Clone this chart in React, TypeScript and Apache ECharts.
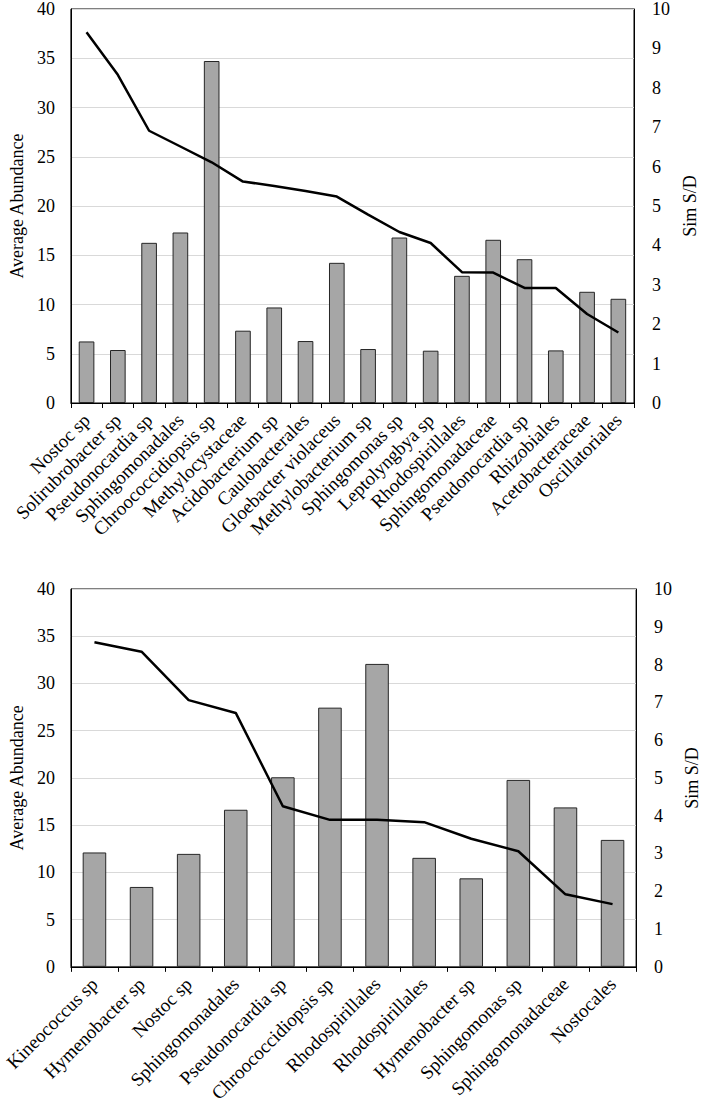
import React, { useEffect, useRef } from "react";
import * as echarts from "echarts";

// Upper panel
const taxaTop = [
  "Nostoc sp",
  "Solirubrobacter sp",
  "Pseudonocardia sp",
  "Sphingomonadales",
  "Chroococcidiopsis sp",
  "Methylocystaceae",
  "Acidobacterium sp",
  "Caulobacterales",
  "Gloebacter violaceus",
  "Methylobacterium sp",
  "Sphingomonas sp",
  "Leptolyngbya sp",
  "Rhodospirillales",
  "Sphingomonadaceae",
  "Pseudonocardia sp",
  "Rhizobiales",
  "Acetobacteraceae",
  "Oscillatoriales",
];
const abundanceTop = [6.25, 5.38, 16.26, 17.31, 34.72, 7.34, 9.7, 6.29, 14.23, 5.48, 16.8, 5.31, 12.91, 16.57, 14.6, 5.34, 11.29, 10.58];
const simSdTop = [9.41, 8.33, 6.91, 6.51, 6.11, 5.62, 5.51, 5.38, 5.24, 4.78, 4.34, 4.06, 3.32, 3.31, 2.92, 2.92, 2.26, 1.79];

// Lower panel
const taxaBottom = [
  "Kineococcus sp",
  "Hymenobacter sp",
  "Nostoc sp",
  "Sphingomonadales",
  "Pseudonocardia sp",
  "Chroococcidiopsis sp",
  "Rhodospirillales",
  "Rhodospirillales",
  "Hymenobacter sp",
  "Sphingomonas sp",
  "Sphingomonadaceae",
  "Nostocales",
];
const abundanceBottom = [12.11, 8.46, 11.96, 16.63, 20.07, 27.44, 32.07, 11.54, 9.37, 19.79, 16.88, 13.44];
const simSdBottom = [8.59, 8.34, 7.06, 6.72, 4.25, 3.89, 3.89, 3.83, 3.39, 3.06, 1.92, 1.66];

// Axis ranges
const abundanceAxis = { min: 0, max: 40, interval: 5 };
const simSdAxis = { min: 0, max: 10, interval: 1 };

const FONT = "'Liberation Serif', 'Times New Roman', serif";
const FS = 18;
const CAT_FS = 19;

export default function App() {
  const ref = useRef<HTMLDivElement>(null);

  useEffect(() => {
    document.body.style.margin = "0";
    if (!ref.current) return;
    const chart = echarts.init(ref.current, undefined, { renderer: "svg" });

    const panels = [
      {
        taxa: taxaTop,
        abundance: abundanceTop,
        simSd: simSdTop,
        grid: { left: 69, right: 75, top: 9, height: 394 },
        leftGap: 40,
        rightGap: 42,
      },
      {
        taxa: taxaBottom,
        abundance: abundanceBottom,
        simSd: simSdBottom,
        grid: { left: 64, right: 59, top: 589, height: 380 },
        leftGap: 38,
        rightGap: 41,
      },
    ];

    const grid: any[] = [];
    const xAxis: any[] = [];
    const yAxis: any[] = [];
    const series: any[] = [];

    panels.forEach((p, i) => {
      grid.push({ ...p.grid, show: true, borderColor: "#000", borderWidth: 1, backgroundColor: "transparent" });
      xAxis.push({
        type: "category",
        gridIndex: i,
        data: p.taxa,
        boundaryGap: true,
        axisLine: { show: true, lineStyle: { color: "#000", width: 1 } },
        axisTick: { show: true, length: 5, lineStyle: { color: "#000" } },
        axisLabel: {
          interval: 0,
          rotate: 45,
          margin: 14,
          color: "#000",
          fontFamily: FONT,
          fontSize: CAT_FS,
        },
      });
      yAxis.push({
        type: "value",
        gridIndex: i,
        position: "left",
        ...abundanceAxis,
        name: "Average Abundance",
        nameLocation: "middle",
        nameGap: p.leftGap,
        nameTextStyle: { color: "#000", fontFamily: FONT, fontSize: FS },
        axisLine: { show: true, lineStyle: { color: "#000" } },
        axisTick: { show: false },
        axisLabel: { color: "#000", fontFamily: FONT, fontSize: FS, margin: 16 },
        splitLine: { show: true, lineStyle: { color: "#d9d9d9", width: 1 } },
      });
      yAxis.push({
        type: "value",
        gridIndex: i,
        position: "right",
        ...simSdAxis,
        name: "Sim S/D",
        nameLocation: "middle",
        nameGap: p.rightGap,
        nameRotate: 90,
        nameTextStyle: { color: "#000", fontFamily: FONT, fontSize: FS },
        axisLine: { show: true, lineStyle: { color: "#000" } },
        axisTick: { show: false },
        axisLabel: { color: "#000", fontFamily: FONT, fontSize: FS, margin: 18 },
        splitLine: { show: false },
      });
      series.push({
        type: "bar",
        xAxisIndex: i,
        yAxisIndex: i * 2,
        data: p.abundance,
        barCategoryGap: "50%",
        itemStyle: { color: "#a6a6a6", borderColor: "#262626", borderWidth: 1 },
      });
      series.push({
        type: "line",
        xAxisIndex: i,
        yAxisIndex: i * 2 + 1,
        data: p.simSd,
        symbol: "none",
        lineStyle: { color: "#000", width: 2.5 },
        z: 5,
      });
    });

    chart.setOption({
      animation: false,
      backgroundColor: "#fff",
      textStyle: { fontFamily: FONT },
      grid,
      xAxis,
      yAxis,
      series,
    });

    return () => chart.dispose();
  }, []);

  return <div ref={ref} style={{ width: 709, height: 1105 }} />;
}
